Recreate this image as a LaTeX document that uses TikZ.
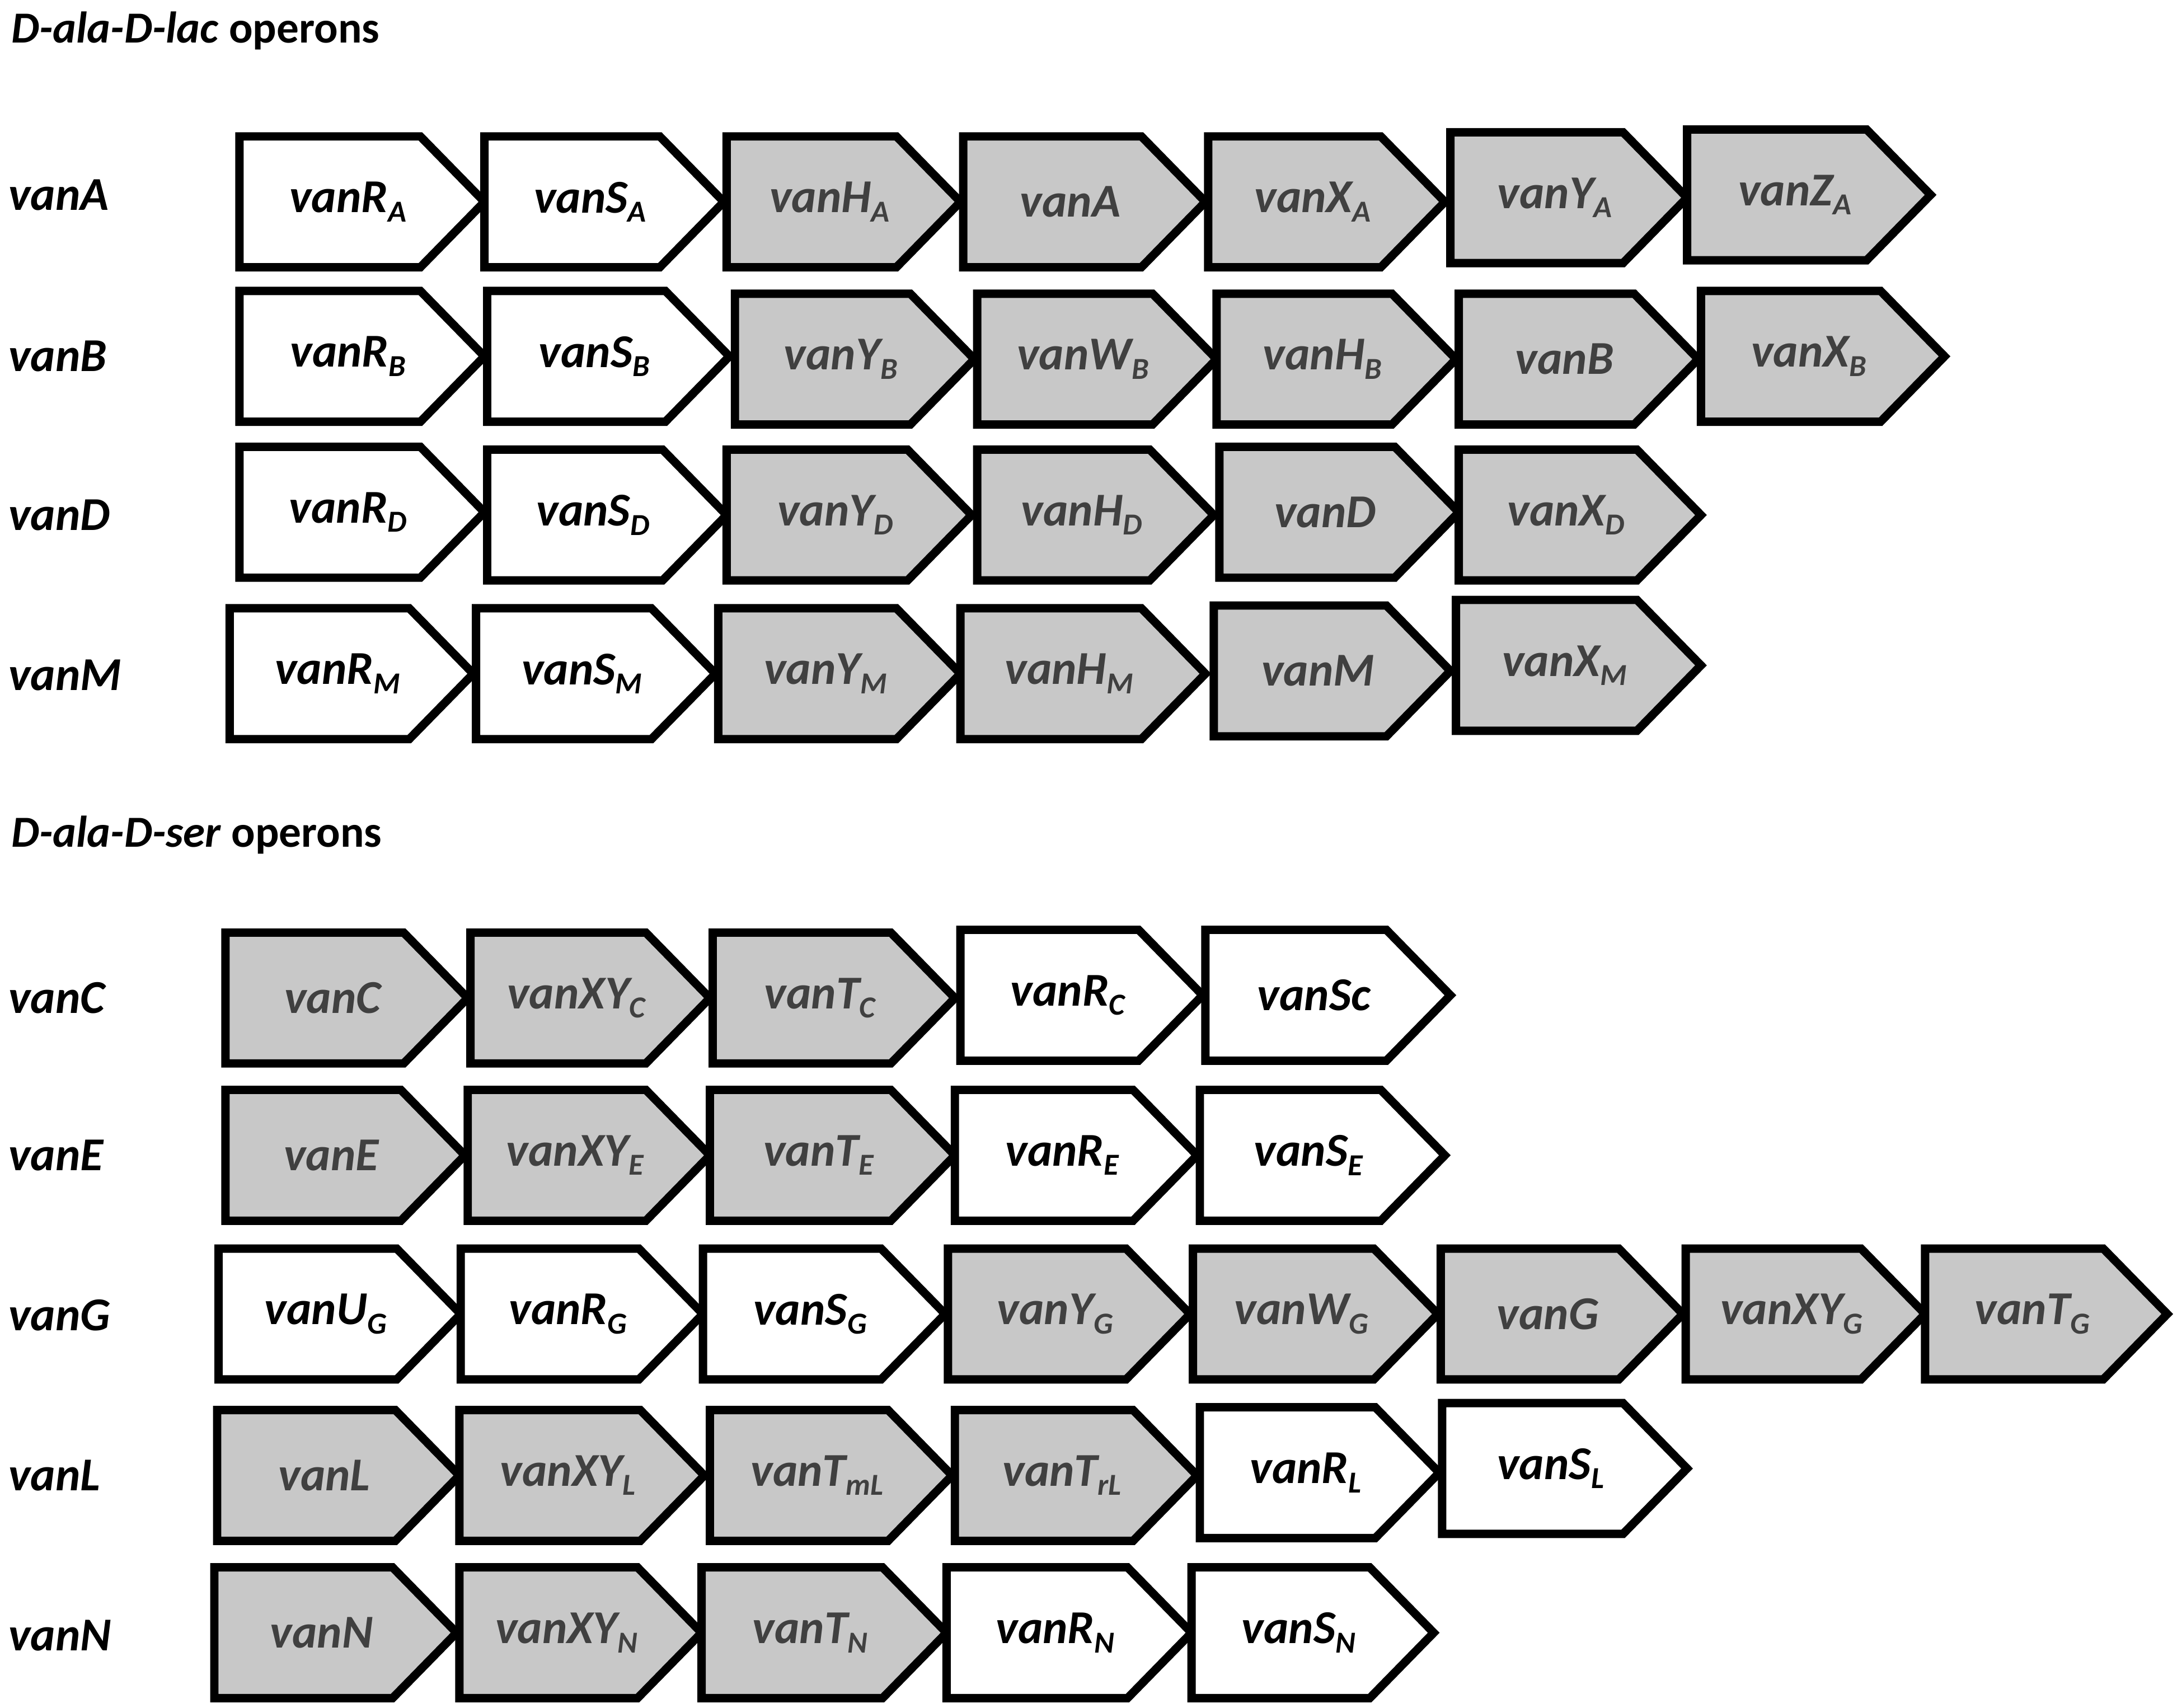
\documentclass[tikz,border=0pt]{standalone}
\usepackage{fontspec}
\setmainfont{Carlito}
\definecolor{gf}{HTML}{C8C8C8}
\definecolor{gt}{HTML}{404040}
\newcommand\gs[1]{{\fontsize{22}{22}\selectfont\raisebox{-0.3em}{#1}}}
% \gene{name}{x1}{x2}{ycenter}{fill}{textcolor}{label}
\newcommand\gene[7]{%
  \draw[gbox,fill=#5] (#2,#4-47) -- (#3-46,#4-47) -- (#3,#4) -- (#3-46,#4+47) -- (#2,#4+47) -- cycle;
  \node[glab,text=#6] (#1) at ({(#2+#3)/2-10},#4) {#7};}
\begin{document}
\begin{tikzpicture}[x=1bp,y=-1bp,
  gbox/.style={line width=6bp,line join=miter,draw=black},
  glab/.style={font=\fontsize{34}{34}\selectfont\bfseries\itshape,inner sep=0pt},
  rlab/.style={font=\fontsize{34}{34}\selectfont\bfseries\itshape,anchor=west,inner sep=0pt},
  hlab/.style={font=\fontsize{32}{32}\selectfont\bfseries,anchor=west,inner sep=0pt}]
\useasboundingbox (0,0) rectangle (1564,1227);
\node[hlab] (h1) at (8,22) {\textit{D-ala-D-lac} operons};
\node[hlab] (h2) at (8,600) {\textit{D-ala-D-ser} operons};
% vanA
\node[rlab] (rA) at (6,140) {vanA};
\gene{a1}{172}{348}{145}{white}{black}{vanR\gs{A}}
\gene{a2}{348}{520}{145}{white}{black}{vanS\gs{A}}
\gene{a3}{522}{690}{145}{gf}{gt}{vanH\gs{A}}
\gene{a4}{692}{866}{145}{gf}{gt}{vanA}
\gene{a5}{868}{1038}{145}{gf}{gt}{vanX\gs{A}}
\gene{a6}{1042}{1212}{142}{gf}{gt}{vanY\gs{A}}
\gene{a7}{1212}{1387}{140}{gf}{gt}{vanZ\gs{A}}
% vanB
\node[rlab] (rB) at (6,256) {vanB};
\gene{b1}{172}{348}{256}{white}{black}{vanR\gs{B}}
\gene{b2}{350}{524}{256}{white}{black}{vanS\gs{B}}
\gene{b3}{528}{700}{258}{gf}{gt}{vanY\gs{B}}
\gene{b4}{702}{874}{258}{gf}{gt}{vanW\gs{B}}
\gene{b5}{874}{1046}{258}{gf}{gt}{vanH\gs{B}}
\gene{b6}{1048}{1220}{258}{gf}{gt}{vanB}
\gene{b7}{1222}{1397}{256}{gf}{gt}{vanX\gs{B}}
% vanD
\node[rlab] (rD) at (6,370) {vanD};
\gene{d1}{172}{348}{368}{white}{black}{vanR\gs{D}}
\gene{d2}{350}{522}{370}{white}{black}{vanS\gs{D}}
\gene{d3}{522}{698}{370}{gf}{gt}{vanY\gs{D}}
\gene{d4}{702}{872}{370}{gf}{gt}{vanH\gs{D}}
\gene{d5}{876}{1048}{368}{gf}{gt}{vanD}
\gene{d6}{1048}{1222}{370}{gf}{gt}{vanX\gs{D}}
% vanM
\node[rlab] (rM) at (6,485) {vanM};
\gene{m1}{165}{340}{484}{white}{black}{vanR\gs{M}}
\gene{m2}{342}{514}{484}{white}{black}{vanS\gs{M}}
\gene{m3}{516}{690}{484}{gf}{gt}{vanY\gs{M}}
\gene{m4}{690}{866}{484}{gf}{gt}{vanH\gs{M}}
\gene{m5}{872}{1042}{482}{gf}{gt}{vanM}
\gene{m6}{1046}{1222}{478}{gf}{gt}{vanX\gs{M}}
% vanC
\node[rlab] (rC) at (6,717) {vanC};
\gene{c1}{162}{336}{717}{gf}{gt}{vanC}
\gene{c2}{338}{510}{717}{gf}{gt}{vanXY\gs{C}}
\gene{c3}{512}{686}{717}{gf}{gt}{vanT\gs{C}}
\gene{c4}{690}{864}{715}{white}{black}{vanR\gs{C}}
\gene{c5}{866}{1042}{715}{white}{black}{vanSc}
% vanE
\node[rlab] (rE) at (6,830) {vanE};
\gene{e1}{162}{334}{830}{gf}{gt}{vanE}
\gene{e2}{336}{510}{830}{gf}{gt}{vanXY\gs{E}}
\gene{e3}{510}{686}{830}{gf}{gt}{vanT\gs{E}}
\gene{e4}{686}{860}{830}{white}{black}{vanR\gs{E}}
\gene{e5}{862}{1038}{830}{white}{black}{vanS\gs{E}}
% vanG
\node[rlab] (rG) at (6,945) {vanG};
\gene{g1}{157}{331}{944}{white}{black}{vanU\gs{G}}
\gene{g2}{331}{505}{944}{white}{black}{vanR\gs{G}}
\gene{g3}{505}{679}{944}{white}{black}{vanS\gs{G}}
\gene{g4}{681}{855}{944}{gf}{gt}{vanY\gs{G}}
\gene{g5}{857}{1033}{944}{gf}{gt}{vanW\gs{G}}
\gene{g6}{1035}{1209}{944}{gf}{gt}{vanG}
\gene{g7}{1211}{1383}{944}{gf}{gt}{vanXY\gs{G}}
\gene{g8}{1383}{1557}{944}{gf}{gt}{vanT\gs{G}}
% vanL
\node[rlab] (rL) at (6,1060) {vanL};
\gene{l1}{156}{330}{1060}{gf}{gt}{vanL}
\gene{l2}{330}{506}{1060}{gf}{gt}{vanXY\gs{L}}
\gene{l3}{510}{684}{1060}{gf}{gt}{vanT\gs{mL}}
\gene{l4}{686}{860}{1060}{gf}{gt}{vanT\gs{rL}}
\gene{l5}{862}{1034}{1058}{white}{black}{vanR\gs{L}}
\gene{l6}{1036}{1212}{1055}{white}{black}{vanS\gs{L}}
% vanN
\node[rlab] (rN) at (6,1175) {vanN};
\gene{n1}{154}{328}{1173}{gf}{gt}{vanN}
\gene{n2}{330}{504}{1173}{gf}{gt}{vanXY\gs{N}}
\gene{n3}{504}{680}{1173}{gf}{gt}{vanT\gs{N}}
\gene{n4}{680}{856}{1173}{white}{black}{vanR\gs{N}}
\gene{n5}{856}{1030}{1173}{white}{black}{vanS\gs{N}}
\end{tikzpicture}
\end{document}
